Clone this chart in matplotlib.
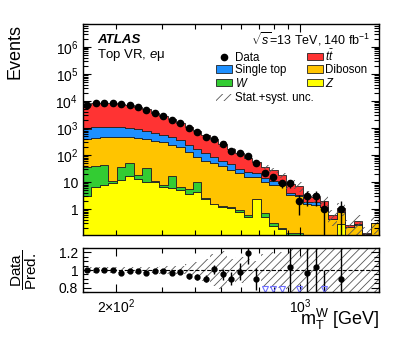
import numpy as np
import matplotlib
matplotlib.use('Agg')
import matplotlib.pyplot as plt
from matplotlib.ticker import FixedLocator, FuncFormatter, LogLocator, NullFormatter, MultipleLocator
from matplotlib.patches import Patch
from matplotlib.lines import Line2D

plt.rcParams['font.family'] = ['Liberation Sans', 'DejaVu Sans']
plt.rcParams['mathtext.fontset'] = 'custom'
plt.rcParams['mathtext.rm'] = 'Liberation Sans'
plt.rcParams['mathtext.it'] = 'Liberation Sans:italic'
plt.rcParams['mathtext.bf'] = 'Liberation Sans:bold'
plt.rcParams['hatch.linewidth'] = 0.6
plt.rcParams['hatch.color'] = '#555555'

# mT^W bin edges [GeV]
binEdges = [150.0, 161.5, 173.9, 187.3, 201.7, 217.2, 233.9, 251.8, 271.2, 292.0,
            314.5, 338.6, 364.7, 392.7, 422.8, 455.3, 490.3, 528.0, 568.6, 612.2,
            659.3, 709.9, 764.5, 823.2, 886.5, 954.6, 1027.9, 1106.9, 1192.0, 1283.5,
            1382.2, 1488.4, 1602.7, 1725.9, 1858.5, 2000.0]

# observed events per bin
dataCounts = [7100, 8700, 8700, 8500, 7800, 7100, 6000, 4700, 3600, 2750,
              2000, 1550, 1000, 720, 480, 380, 250, 145, 115, 91,
              51, 22, 15, 9, 9, 2, 3, 3, 1, 0,
              1, 0, 0, 0, 0]

# background predictions per bin
zJets = [3.0, 6.7, 7.7, 9.4, 11.8, 16.7, 12.6, 10.3, 10.0, 6.7,
         5.8, 5.0, 3.5, 4.4, 2.3, 1.5, 1.2, 1.1, 0.8, 0.52,
         2.3, 0.52, 0.23, 0.18, 0.05, 0.05, 0, 0, 0, 0,
         0.27, 0, 0, 0, 0]
wJets = [32, 32, 35, 1.6, 25, 35, 5.4, 22, 1.0, 0.8,
         10.9, 1.7, 2.0, 5.6, 0.2, 0.1, 0.05, 0.05, 0.1, 0.08,
         0.05, 0.17, 0.08, 0.02, 0.08, 0.08, 0, 0, 0, 0,
         0, 0, 0, 0, 0]
diboson = [345, 376, 412, 444, 418, 393, 397, 348, 329, 287,
           218, 188, 120, 77, 59.5, 47.4, 37.8, 26.4, 20.1, 14.4,
           12.7, 9.3, 7.5, 7.8, 3.2, 2.9, 1.5, 1.45, 1.15, 0.42,
           0.53, 0.22, 0.25, 0.12, 0.31]
singleTop = [510, 655, 665, 665, 615, 535, 475, 415, 335, 255,
             222, 168, 114, 75, 53, 38, 23, 19.5, 9, 9,
             6, 4, 3.2, 1.5, 0.5, 0.4, 0.4, 0.35, 0.05, 0,
             0, 0, 0.02, 0, 0]
ttbar = [6210, 7630, 7580, 7380, 6970, 6190, 5200, 4055, 2965, 2230,
         1603, 1217, 835, 618, 418, 289, 201, 114, 87, 52,
         36, 23, 16.5, 8.5, 4.9, 3.6, 1.2, 1.1, 0.8, 0.18,
         0.32, 0.03, 0.09, 0.01, 0]

# relative stat.+syst. uncertainty on the prediction
relUnc = [0.03, 0.03, 0.03, 0.03, 0.03, 0.03, 0.03, 0.03, 0.035, 0.04,
          0.04, 0.05, 0.07, 0.09, 0.12, 0.18, 0.22, 0.12, 0.15, 0.12,
          0.10, 0.18, 0.20, 0.20, 0.35, 0.40, 0.45, 0.40, 0.50, 0.60,
          0.50, 0.60, 0.70, 0.70, 0.60]

edges = np.array(binEdges)
centers = np.sqrt(edges[:-1] * edges[1:])
data = np.array(dataCounts, dtype=float)
unc = np.array(relUnc)

fig = plt.figure(figsize=(3.99, 3.37), dpi=100)
ax = fig.add_axes([0.208, 0.3027, 0.742, 0.626])
axr = fig.add_axes([0.208, 0.1335, 0.742, 0.1306])

# stacked backgrounds
layers = [(zJets, '#ffff00'), (wJets, '#33cc33'), (diboson, '#ffc400'),
          (singleTop, '#1e90ff'), (ttbar, '#ff3333')]
bottom = np.full(len(data), 1e-3)
for vals, col in layers:
    top = bottom + np.array(vals)
    ax.stairs(top, edges, baseline=bottom, fill=True, facecolor=col,
              edgecolor='#222222', linewidth=0.6)
    bottom = top
total = bottom - 1e-3

# uncertainty band
ax.stairs(total * (1 + unc), edges, baseline=total * (1 - unc), fill=True,
          facecolor='none', edgecolor='#555555', hatch='////', linewidth=0)

# data
mask = data > 0
err = np.sqrt(data)
ax.errorbar(centers[mask], data[mask], yerr=err[mask], fmt='o', color='k',
            ms=4.5, lw=1, capsize=0)

ax.set_xscale('log')
ax.set_yscale('log')
ax.set_xlim(150, 2000)
ax.set_ylim(0.11, 7e6)
ax.yaxis.set_major_locator(LogLocator(base=10, numticks=20))
ax.yaxis.set_minor_locator(LogLocator(base=10, subs=np.arange(2, 10), numticks=20))
ax.yaxis.set_major_formatter(FuncFormatter(
    lambda v, p: '1' if v == 1 else ('10' if v == 10 else r'$10^{%d}$' % round(np.log10(v)))))
ax.yaxis.set_minor_formatter(NullFormatter())
ax.xaxis.set_major_formatter(NullFormatter())
ax.xaxis.set_minor_formatter(NullFormatter())
ax.set_ylabel('Events', fontsize=13, loc='top')
ax.yaxis.set_label_coords(-0.2, 1.0)

ax.text(0.047, 0.924, 'ATLAS', transform=ax.transAxes, fontsize=9.5,
        fontweight='bold', fontstyle='italic', va='center')
ax.text(0.047, 0.853, 'Top VR, $e$μ', transform=ax.transAxes, fontsize=9.5, va='center')
ax.text(0.97, 0.93, r'$\sqrt{s}$=13 TeV, 140 fb$^{-1}$', transform=ax.transAxes,
        fontsize=9, va='center', ha='right')

edgeKw = dict(edgecolor='#222222', lw=0.6)
handles = [
    Line2D([], [], marker='o', color='k', ls='none', ms=4.5),
    Patch(facecolor='#1e90ff', **edgeKw),
    Patch(facecolor='#33cc33', **edgeKw),
    Patch(facecolor='#ff3333', **edgeKw),
    Patch(facecolor='#ffc400', **edgeKw),
    Patch(facecolor='#ffff00', **edgeKw),
]
labels = ['Data', 'Single top', '$W$', r'$t\bar{t}$', 'Diboson', '$Z$']
legKw = dict(frameon=False, fontsize=8.3, borderpad=0, handlelength=1.4,
             handleheight=0.6, handletextpad=0.2, labelspacing=0.05,
             borderaxespad=0, loc='upper left')
leg1 = ax.legend(handles, labels, ncol=2, bbox_to_anchor=(0.45, 0.885),
                 columnspacing=1.8, **legKw)
ax.add_artist(leg1)
uncHandle = Patch(facecolor='none', edgecolor='#555555', hatch='////', lw=0)
ax.legend([uncHandle], ['Stat.+syst. unc.'], bbox_to_anchor=(0.45, 0.676), **legKw)

# ratio panel
ratio = data / total
rerr = err / total
ylo, yhi = 0.75, 1.25
axr.stairs(1 + unc, edges, baseline=1 - unc, fill=True, facecolor='none',
           edgecolor='#555555', hatch='////', linewidth=0)
axr.axhline(1, ls='--', color='k', lw=0.8)
axr.errorbar(centers[mask], ratio[mask], yerr=rerr[mask], fmt='o', color='k',
             ms=3.5, lw=1, capsize=0)
low = mask & (ratio < ylo)
axr.plot(centers[low], np.full(low.sum(), ylo + 0.035), 'v', mfc='none',
         mec='#6f6fff', ms=4, mew=0.8)
axr.set_xscale('log')
axr.set_xlim(150, 2000)
axr.set_ylim(ylo, yhi)
axr.xaxis.set_major_locator(FixedLocator([200, 1000]))
axr.xaxis.set_major_formatter(FuncFormatter(
    lambda v, p: r'2$\times$10$^{2}$' if abs(v - 200) < 1 else r'10$^{3}$'))
axr.xaxis.set_minor_locator(FixedLocator([300, 400, 500, 600, 700, 800, 900, 2000]))
axr.xaxis.set_minor_formatter(NullFormatter())
axr.yaxis.set_major_locator(FixedLocator([0.8, 1.0, 1.2]))
axr.yaxis.set_major_formatter(FuncFormatter(lambda v, p: '%g' % v))
axr.yaxis.set_minor_locator(MultipleLocator(0.05))
axr.set_ylabel(r'$\dfrac{\mathrm{Data}}{\mathrm{Pred.}}$', fontsize=11)
axr.yaxis.set_label_coords(-0.15, 0.5)
axr.set_xlabel(r'm$_{\mathrm{T}}^{\mathrm{W}}$ [GeV]', fontsize=13, ha='right', va='top')
axr.xaxis.set_label_coords(1.0, -0.33)

ax.xaxis.set_minor_locator(FixedLocator([200, 300, 400, 500, 600, 700, 800, 900, 2000]))
for a in (ax, axr):
    a.tick_params(which='both', direction='in', top=True, right=True, labelsize=10)
    a.tick_params(which='major', length=6, width=0.8)
    a.tick_params(which='minor', length=3.5, width=0.8)
    for s in a.spines.values():
        s.set_linewidth(1.0)
axr.tick_params(axis='x', which='major', pad=4)

fig.savefig('out.png', dpi=100)
